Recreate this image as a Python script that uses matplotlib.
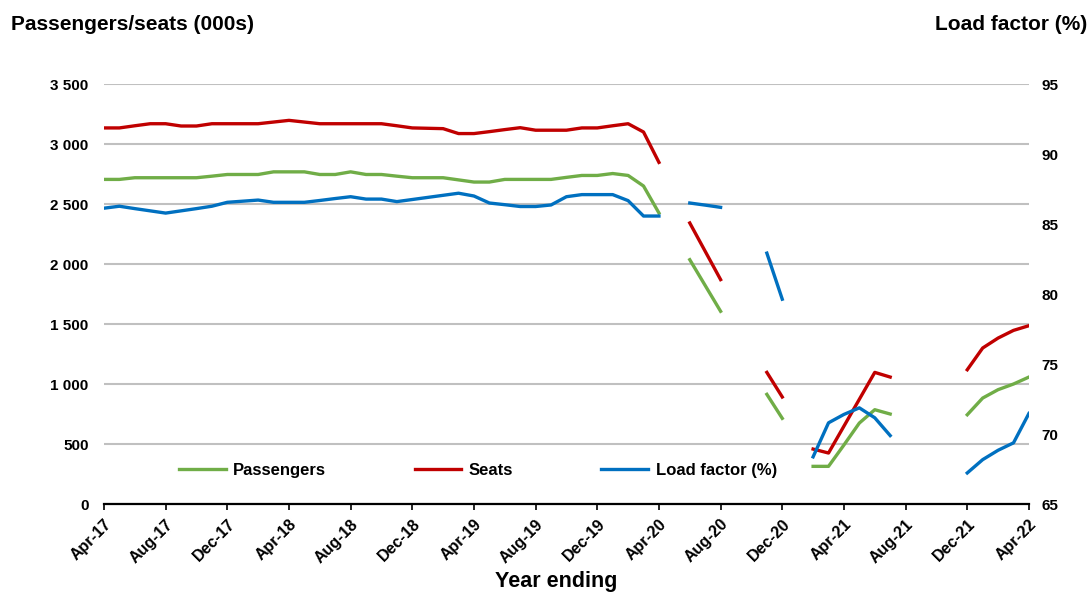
# Passengers, seats and load factor - year ending Apr-17 to Apr-22
# monthly points, gaps where no data was published

import matplotlib.pyplot as plt
import numpy as np

plt.rcParams['font.family'] = ['Liberation Sans', 'DejaVu Sans']      # Arial look-alike
plt.rcParams['font.weight'] = 'bold'

nan = np.nan

# data (000s and %), one value per month from Apr-17 (index 0) to Apr-22 (index 60)
passengers = [2705, 2705, 2719, 2719, 2719, 2719, 2719, 2732, 2746, 2746,
              2746, 2768, 2768, 2768, 2746, 2746, 2768, 2746, 2746, 2732,
              2719, 2719, 2719, 2701, 2683, 2683, 2705, 2705, 2705, 2705,
              2722, 2738, 2738, 2754, 2738, 2650, 2425, nan, 2036, 1821,
              1606, nan, nan, 914, 714, nan, 314, 314, 492, 675,
              786, 750, nan, nan, nan, nan, 744, 883, 953, 1000,
              1058]
seats = [3134, 3134, 3152, 3169, 3169, 3150, 3150, 3169, 3169, 3169,
         3169, 3183, 3197, 3183, 3169, 3169, 3169, 3169, 3169, 3152,
         3134, 3131, 3128, 3087, 3087, 3103, 3120, 3136, 3115, 3115,
         3115, 3134, 3134, 3152, 3169, 3100, 2847, nan, 2342, 2106,
         1870, nan, nan, 1097, 892, nan, 458, 425, 649, 873,
         1097, 1058, nan, nan, nan, nan, 1119, 1300, 1383, 1447,
         1486]
load_factor = [86.13, 86.27, 86.10, 85.94, 85.78, 85.94, 86.10, 86.27, 86.55, 86.63,
               86.71, 86.55, 86.55, 86.55, 86.68, 86.82, 86.95, 86.78, 86.78, 86.60,
               86.75, 86.90, 87.05, 87.20, 87.00, 86.50, 86.38, 86.25, 86.25, 86.36,
               86.95, 87.10, 87.10, 87.10, 86.67, 85.57, 85.57, nan, 86.50, 86.35,
               86.19, nan, nan, 82.92, 79.63, nan, 68.37, 70.80, 71.40, 71.87,
               71.16, 69.89, nan, nan, nan, nan, 67.22, 68.17, 68.84, 69.37,
               71.47]

tick_labels = ['Apr-17', 'Aug-17', 'Dec-17', 'Apr-18', 'Aug-18', 'Dec-18', 'Apr-19', 'Aug-19',
               'Dec-19', 'Apr-20', 'Aug-20', 'Dec-20', 'Apr-21', 'Aug-21', 'Dec-21', 'Apr-22']

months = np.arange(len(seats))

green = '#70AD47'
red = '#C00000'
blue = '#0070C0'

fig = plt.figure(figsize=(10.91, 5.92), dpi=100)
ax = fig.add_axes([0.0953, 0.1486, 0.8478, 0.7095])
ax2 = ax.twinx()

ax.plot(months, passengers, color=green, linewidth=2.4, label='Passengers')
ax.plot(months, seats, color=red, linewidth=2.4, label='Seats')
ax2.plot(months, load_factor, color=blue, linewidth=2.4, label='Load factor (%)')

# left axis - passengers/seats
ax.set_xlim(0, 60)
ax.set_ylim(0, 3500)
ax.set_yticks(range(0, 3501, 500))
ax.set_yticklabels([f'{v:,}'.replace(',', ' ') for v in range(0, 3501, 500)], fontsize=11)
ax.tick_params(axis='y', length=0, pad=11)
ax.grid(axis='y', color='#C0C0C0', linewidth=1.5)
ax.set_axisbelow(True)

# x axis - every 4 months
ax.set_xticks(range(0, 61, 4))
ax.set_xticklabels(tick_labels, rotation=45, ha='right', va='top', rotation_mode='anchor', fontsize=11.5)
ax.tick_params(axis='x', length=4, width=1.2, color='black', pad=5)

# right axis - load factor
ax2.set_ylim(65, 95)
ax2.set_yticks(range(65, 96, 5))
ax2.set_yticklabels([str(v) for v in range(65, 96, 5)], fontsize=11)
ax2.tick_params(axis='y', length=0, pad=9)

for a in (ax, ax2):
    a.spines['top'].set_visible(False)
    a.spines['left'].set_visible(False)
    a.spines['right'].set_visible(False)
ax.spines['bottom'].set_linewidth(1.6)
ax2.spines['bottom'].set_visible(False)

# legend inside the plot, along the bottom
handles = ax.get_lines() + ax2.get_lines()
ax2.legend(handles, [h.get_label() for h in handles], loc='center left', bbox_to_anchor=(0.065, 0.08),
           ncol=3, frameon=False, fontsize=12, handlelength=2.8, handletextpad=0.45, columnspacing=5.3)

fig.text(0.01, 0.958, 'Passengers/seats (000s)', fontsize=15, va='center', ha='left')
fig.text(0.997, 0.958, 'Load factor (%)', fontsize=15, va='center', ha='right')
fig.text(0.51, 0.018, 'Year ending', fontsize=15.5, va='center', ha='center')

fig.savefig('out.png', dpi=100)
